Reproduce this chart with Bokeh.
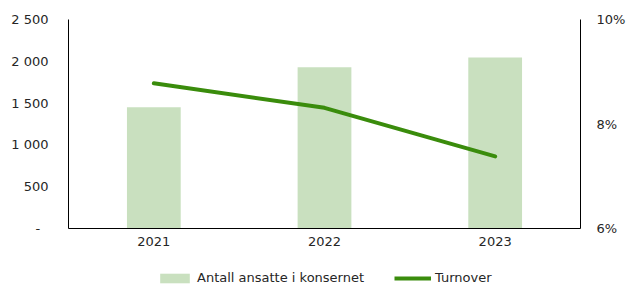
from bokeh.plotting import figure
from bokeh.layouts import column
from bokeh.models import (FactorRange, Range1d, LinearAxis, FixedTicker, Legend,
                          LegendItem, ColumnDataSource)
from bokeh.embed import file_html
from bokeh.resources import INLINE

years = ["2021", "2022", "2023"]
employees = [1450, 1930, 2045]
turnover_pct = [8.78, 8.31, 7.38]
left_ticks = [0, 500, 1000, 1500, 2000, 2500]
left_labels = ["-\u2007", "500", "1 000", "1 500", "2 000", "2 500"]
right_ticks = [6, 8, 10]
right_labels = ["6%", "8%", "10%"]
bar_name = "Antall ansatte i konsernet"
line_name = "Turnover"

FONT = "DejaVu Sans"
TXT = "#262626"
BAR_C = "#c9e0bf"
LINE_C = "#3a8c0c"

src = ColumnDataSource(dict(x=years, emp=employees, pct=turnover_pct))

p = figure(x_range=FactorRange(*years), y_range=Range1d(0, 2500),
           width=628, height=258, output_backend="svg", toolbar_location=None,
           min_border_left=68, min_border_right=45, min_border_top=19,
           min_border_bottom=30)
p.outline_line_color = None
p.xgrid.visible = False
p.ygrid.visible = False
p.extra_y_ranges = {"pct": Range1d(6, 10)}

p.vbar(x="x", top="emp", width=0.315, source=src, fill_color=BAR_C, line_color=None)
p.line(x="x", y="pct", source=src, y_range_name="pct",
       line_color=LINE_C, line_width=4, line_cap="round", line_join="round")


def style_axis(ax, standoff):
    ax.major_tick_line_color = None
    ax.minor_tick_line_color = None
    ax.major_tick_out = 0
    ax.major_tick_in = 0
    ax.minor_tick_out = 0
    ax.axis_line_color = "black"
    ax.axis_line_width = 1
    ax.major_label_standoff = standoff
    ax.major_label_text_font = FONT
    ax.major_label_text_font_size = "13px"
    ax.major_label_text_color = TXT


ya = p.yaxis[0]
ya.ticker = FixedTicker(ticks=left_ticks)
ya.major_label_overrides = {t: l for t, l in zip(left_ticks, left_labels)}
style_axis(ya, 20)

ra = LinearAxis(y_range_name="pct", ticker=FixedTicker(ticks=right_ticks))
ra.major_label_overrides = {t: l for t, l in zip(right_ticks, right_labels)}
style_axis(ra, 16)
p.add_layout(ra, "right")

style_axis(p.xaxis[0], 8)

# legend strip below the chart (hidden renderers only provide legend swatches)
lg = figure(x_range=FactorRange(*years), y_range=Range1d(-20, -10), width=628, height=27,
            output_backend="svg", toolbar_location=None,
            min_border=0, min_border_left=0, min_border_right=0,
            min_border_top=0, min_border_bottom=0)
lg.axis.visible = False
lg.grid.visible = False
lg.outline_line_color = None
lb = lg.vbar(x="x", top="emp", width=0.315, source=src, fill_color=BAR_C, line_color=None)
ll = lg.line(x="x", y="pct", source=src, line_color=LINE_C, line_width=4)
lb.visible = False
ll.visible = False
legend = Legend(items=[LegendItem(label=bar_name, renderers=[lb]),
                       LegendItem(label=line_name, renderers=[ll])],
                location=(88, 0), orientation="horizontal",
                border_line_color=None, background_fill_alpha=0,
                padding=0, margin=0, spacing=30, label_standoff=4,
                glyph_width=37, glyph_height=12, label_height=13,
                label_text_font=FONT, label_text_font_size="13px",
                label_text_color=TXT)
lg.add_layout(legend, "center")

layout = column(p, lg, spacing=0)
open("out.html", "w").write(file_html(layout, INLINE))
